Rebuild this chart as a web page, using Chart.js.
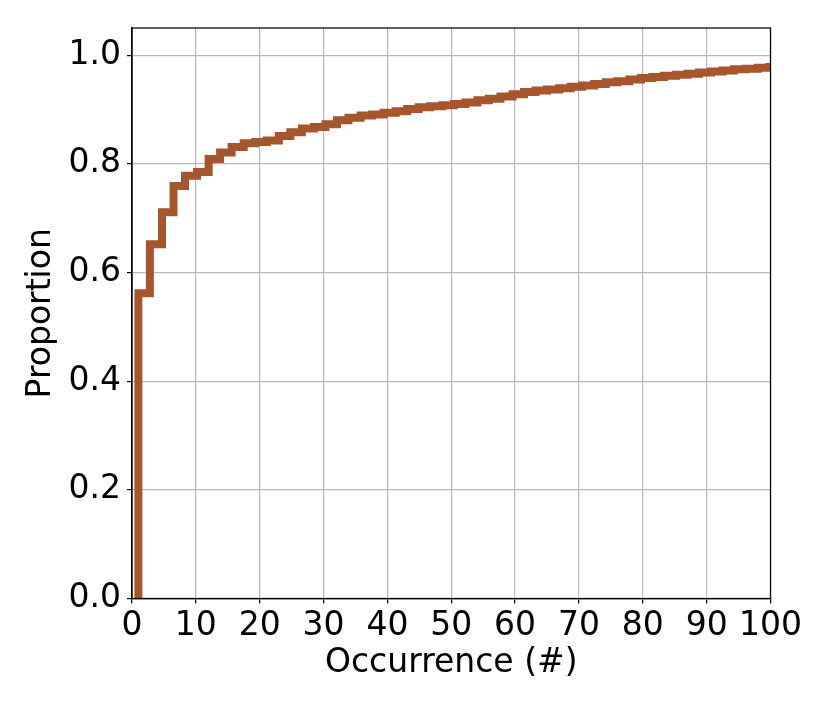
<!DOCTYPE html>
<html>
<head>
<meta charset="utf-8">
<script src="https://cdn.jsdelivr.net/npm/chart.js@4.4.1/dist/chart.umd.min.js"></script>
<style>
    html, body { margin: 0; padding: 0; background: #fff; }
    #wrap { width: 830px; height: 712px; }
</style>
</head>
<body>
<div id="wrap"><canvas id="ecdfChart" width="830" height="712"></canvas></div>
<script>
// Cumulative step curve: left edge of each bin and the proportion reached there
const binEdges = [1, 2.8, 4.7, 6.5, 8.3, 10.2, 12.0, 13.8, 15.6, 17.5, 19.3, 21.1, 23.0, 24.8, 26.6,
    28.5, 30.3, 32.1, 33.9, 35.8, 37.6, 39.4, 41.3, 43.1, 44.9, 46.7, 48.6, 50.4, 52.2, 54.1,
    55.9, 57.7, 59.6, 61.4, 63.2, 65.0, 66.9, 68.7, 70.5, 72.4, 74.2, 76.0, 77.9, 79.7, 81.5,
    83.3, 85.2, 87.0, 88.8, 90.7, 92.5, 94.3, 96.1, 98.0, 99.8];
const proportions = [0.562, 0.652, 0.711, 0.759, 0.778, 0.785, 0.809, 0.821, 0.831, 0.838, 0.840, 0.843, 0.851, 0.858, 0.865,
    0.868, 0.873, 0.880, 0.885, 0.889, 0.891, 0.894, 0.897, 0.901, 0.904, 0.906, 0.908, 0.910, 0.913, 0.917,
    0.920, 0.924, 0.928, 0.932, 0.935, 0.937, 0.939, 0.942, 0.944, 0.947, 0.950, 0.952, 0.955, 0.958, 0.960,
    0.962, 0.964, 0.966, 0.968, 0.970, 0.972, 0.974, 0.975, 0.977, 0.978];
const xTicks = [0, 10, 20, 30, 40, 50, 60, 70, 80, 90, 100];
const yTicks = [0.0, 0.2, 0.4, 0.6, 0.8, 1.0];
const xMax = 100;
const yMax = 1.05;

const FONT = 'DejaVu Sans';
const FONT_SIZE = 33;
const LINE_COLOR = '#a5562c';

// start at zero, rise at each bin edge, run flat to the right edge of the axes
const stepPoints = [{ x: binEdges[0], y: 0 }]
    .concat(binEdges.map((e, i) => ({ x: e, y: proportions[i] })))
    .concat([{ x: xMax, y: proportions[proportions.length - 1] }]);

// top and right spines (the scales only draw bottom/left)
const frameBox = {
    id: 'frameBox',
    afterDraw(chart) {
        const { ctx, chartArea: a } = chart;
        ctx.save();
        ctx.strokeStyle = '#000';
        ctx.lineWidth = 1.25;
        ctx.strokeRect(a.left, a.top, a.right - a.left, a.bottom - a.top);
        ctx.restore();
    }
};

new Chart(document.getElementById('ecdfChart'), {
    type: 'line',
    data: {
        datasets: [{
            data: stepPoints,
            stepped: 'before',
            borderColor: LINE_COLOR,
            borderWidth: 8,
            borderJoinStyle: 'miter',
            borderCapStyle: 'butt',
            pointRadius: 0,
            fill: false,
            clip: 0
        }]
    },
    options: {
        responsive: false,
        animation: false,
        layout: { padding: { left: 0, top: 28, right: 59.5, bottom: 0 } },
        plugins: { legend: { display: false }, tooltip: { enabled: false } },
        scales: {
            x: {
                type: 'linear',
                min: 0,
                max: xMax,
                afterFit(scale) { scale.height = 113.5; },
                afterBuildTicks(scale) { scale.ticks = xTicks.map(v => ({ value: v })); },
                ticks: {
                    color: '#000',
                    font: { family: FONT, size: FONT_SIZE },
                    padding: 3,
                    maxRotation: 0,
                    autoSkip: false,
                    callback: v => String(v)
                },
                grid: { color: '#b8b8b8', lineWidth: 1.2, tickLength: 5, tickColor: '#000', tickWidth: 1.25 },
                border: { display: true, color: '#000', width: 1.25 },
                title: {
                    display: true,
                    text: 'Occurrence (#)',
                    color: '#000',
                    font: { family: FONT, size: FONT_SIZE },
                    padding: { top: 0, bottom: 29 }
                }
            },
            y: {
                min: 0,
                max: yMax,
                afterFit(scale) { scale.width = 132; },
                afterBuildTicks(scale) { scale.ticks = yTicks.map(v => ({ value: v })); },
                ticks: {
                    color: '#000',
                    font: { family: FONT, size: FONT_SIZE },
                    padding: 6,
                    autoSkip: false,
                    callback: v => Number(v).toFixed(1)
                },
                grid: { color: '#b8b8b8', lineWidth: 1.2, tickLength: 5, tickColor: '#000', tickWidth: 1.25 },
                border: { display: true, color: '#000', width: 1.25 },
                title: {
                    display: true,
                    text: 'Proportion',
                    color: '#000',
                    font: { family: FONT, size: FONT_SIZE },
                    padding: { top: 22, bottom: 0 }
                }
            }
        }
    },
    plugins: [frameBox]
});
</script>
</body>
</html>
